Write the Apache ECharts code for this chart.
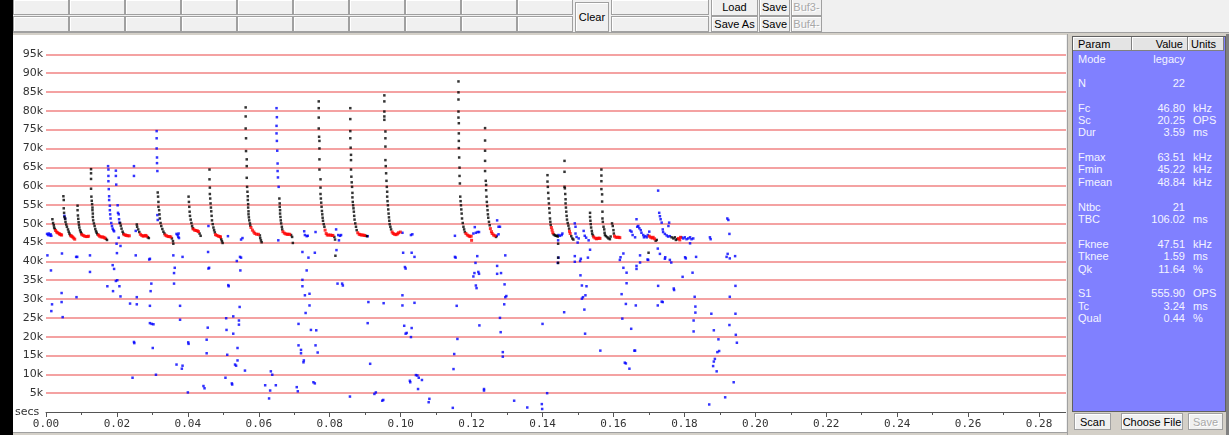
<!DOCTYPE html>
<html>
<head>
<meta charset="utf-8">
<script src="https://cdn.jsdelivr.net/npm/echarts@6/dist/echarts.min.js"></script>
<style>
  html, body { margin: 0; padding: 0; }
  body { width: 1229px; height: 435px; position: relative; overflow: hidden; background: #f0f0f0; font-family: 'Liberation Sans', Arial, sans-serif; }
  .abs { position: absolute; box-sizing: border-box; }
  .btn { position: absolute; box-sizing: border-box; background: #f0f0f0; border: 1px solid #a0a0a0; box-shadow: inset 1px 1px 0 #fff; font-size: 11px; color: #000; display: flex; align-items: center; justify-content: center; white-space: nowrap; }
  .btn.off { color: #a8a8a8; text-shadow: 1px 1px 0 #fff; }
  #chart { position: absolute; left: 13px; top: 35px; width: 1053px; height: 397px; background: #fff; }
  #panel { position: absolute; left: 1067px; top: 34px; width: 162px; height: 401px; background: #d4d0c8; border-left: 1px solid #a0a0a0; }
  #tbl { position: absolute; left: 4px; top: 2px; width: 152px; height: 374px; background: #8080ff; border: 1px solid #606060; }
  .hd { position: absolute; top: 0; height: 14px; background: #e4e4e4; border-right: 1px solid #808080; border-bottom: 1px solid #808080; box-shadow: inset 1px 1px 0 #fff; font-size: 11px; line-height: 14px; color: #000; box-sizing: border-box; }
  .row { position: absolute; left: 0; width: 152px; height: 13px; font-size: 11px; line-height: 13px; color: #f4f4ff; }
  .row span { position: absolute; top: 0; }
  .row .k { left: 5px; }
  .row .v { right: 40px; text-align: right; }
  .row .u { left: 120px; }
  #secs { position: absolute; left: 15px; top: 405px; font-family: 'DejaVu Sans', sans-serif; font-size: 11px; color: #333; }
</style>
</head>
<body>
<!-- left frame strip -->
<div class="abs" style="left:0;top:0;width:13px;height:435px;background:#000"></div>
<!-- toolbar -->
<div class="abs" style="left:13px;top:0;width:1216px;height:35px;background:#f0f0f0"></div>
<div class="abs" style="left:13px;top:32px;width:1216px;height:3px;background:#d4d0c8;border-top:1px solid #a0a0a0"></div>
<div id="toolbar"></div>
<!-- plot -->
<div id="chart"></div>
<div id="secs">secs</div>
<!-- bottom strip -->
<div class="abs" style="left:13px;top:432px;width:1054px;height:3px;background:#d4d0c8;border-top:1px solid #a0a0a0"></div>
<!-- parameter panel -->
<div id="panel">
  <div id="tbl">
    <div class="hd" style="left:0;width:59px;padding-left:5px">Param</div>
    <div class="hd" style="left:59px;width:56px;text-align:right;padding-right:4px">Value</div>
    <div class="hd" style="left:115px;width:36px;padding-left:3px">Units</div>
    <div id="rows"></div>
  </div>
  <div class="btn" style="left:6px;top:379px;width:37px;height:17px">Scan</div>
  <div class="btn" style="left:53px;top:379px;width:62px;height:17px">Choose File</div>
  <div class="btn off" style="left:120px;top:379px;width:35px;height:17px">Save</div>
</div>
<div class="abs" style="left:1226px;top:34px;width:3px;height:401px;background:#808080"></div>

<script>
// ---- toolbar buttons ----
const toolCols = 10;
const toolButtons = [
  { text: 'Clear', x: 575, y: 2, w: 34, h: 30 },
  { text: '', x: 611, y: -1, w: 98, h: 16 },
  { text: '', x: 611, y: 16, w: 98, h: 16 },
  { text: 'Load', x: 711, y: -2, w: 47, h: 18 },
  { text: 'Save As', x: 711, y: 16, w: 47, h: 16 },
  { text: 'Save', x: 759, y: -2, w: 31, h: 18 },
  { text: 'Save', x: 759, y: 16, w: 31, h: 16 },
  { text: 'Buf3-', x: 791, y: -2, w: 31, h: 18, off: true },
  { text: 'Buf4-', x: 791, y: 16, w: 31, h: 16, off: true }
];
const tb = document.getElementById('toolbar');
for (let r = 0; r < 2; r++) {
  for (let c = 0; c < toolCols; c++) {
    const d = document.createElement('div');
    d.className = 'btn';
    d.style.cssText = `left:${13 + c * 56}px;top:${r === 0 ? -1 : 16}px;width:56px;height:16px`;
    tb.appendChild(d);
  }
}
toolButtons.forEach(b => {
  const d = document.createElement('div');
  d.className = 'btn' + (b.off ? ' off' : '');
  d.style.cssText = `left:${b.x}px;top:${b.y}px;width:${b.w}px;height:${b.h}px`;
  d.textContent = b.text;
  tb.appendChild(d);
});

// ---- parameter table ----
const paramNames  = ['Mode', 'N', 'Fc', 'Sc', 'Dur', 'Fmax', 'Fmin', 'Fmean', 'Ntbc', 'TBC', 'Fknee', 'Tknee', 'Qk', 'S1', 'Tc', 'Qual'];
const paramValues = ['legacy', '22', '46.80', '20.25', '3.59', '63.51', '45.22', '48.84', '21', '106.02', '47.51', '1.59', '11.64', '555.90', '3.24', '0.44'];
const paramUnits  = ['', '', 'kHz', 'OPS', 'ms', 'kHz', 'kHz', 'kHz', '', 'ms', 'kHz', 'ms', '%', 'OPS', 'ms', '%'];
const paramRowTop = [16, 40, 65, 77, 89, 114, 126, 139, 164, 176, 201, 213, 226, 250, 263, 275];
const rowsEl = document.getElementById('rows');
paramNames.forEach((n, i) => {
  const r = document.createElement('div');
  r.className = 'row';
  r.style.top = paramRowTop[i] + 'px';
  r.innerHTML = `<span class="k">${n}</span><span class="v">${paramValues[i]}</span><span class="u">${paramUnits[i]}</span>`;
  rowsEl.appendChild(r);
});

// ---- call data: [time s, frequency kHz] ----
const blackDots = [
  [0.0018,51.2],[0.0020,50.2],[0.0022,49.6],[0.0023,49.0],[0.0025,48.6],
  [0.0049,57.3],[0.0050,56.3],[0.0050,54.1],[0.0051,52.9],[0.0052,51.8],[0.0054,51.3],[0.0055,50.5],[0.0057,49.8],[0.0059,49.2],[0.0062,48.5],[0.0064,47.9],[0.0066,47.4],[0.0068,47.0],
  [0.0089,54.8],[0.0089,53.6],[0.0090,52.2],[0.0091,51.3],[0.0092,50.4],[0.0093,49.7],[0.0094,49.0],[0.0096,48.3],[0.0098,47.8],[0.0100,47.4],
  [0.0127,64.5],[0.0127,63.4],[0.0127,61.9],[0.0127,59.3],[0.0128,57.2],[0.0129,56.1],[0.0130,55.2],[0.0131,54.3],[0.0131,53.6],[0.0132,52.7],[0.0132,51.8],[0.0133,50.9],[0.0135,50.1],[0.0137,49.4],[0.0139,48.6],[0.0141,48.0],[0.0143,47.6],[0.0145,47.2],[0.0169,46.0],[0.0172,45.7],
  [0.0209,50.2],[0.0211,49.5],[0.0213,48.7],[0.0216,47.9],[0.0218,47.4],
  [0.0256,49.8],[0.0257,49.2],[0.0260,48.5],[0.0263,47.8],[0.0287,46.4],[0.0290,46.2],
  [0.0315,58.3],[0.0316,57.2],[0.0317,55.8],[0.0317,54.5],[0.0319,53.6],[0.0320,52.5],[0.0321,51.4],[0.0323,50.2],[0.0325,49.4],[0.0328,48.6],[0.0331,47.9],[0.0334,47.4],[0.0355,46.1],[0.0358,45.4],[0.0359,44.7],
  [0.0402,57.2],[0.0403,55.8],[0.0404,54.5],[0.0405,53.2],[0.0406,52.1],[0.0408,51.1],[0.0410,50.2],[0.0412,49.4],[0.0414,48.8],[0.0433,47.4],[0.0436,46.8],
  [0.0461,64.4],[0.0461,61.8],[0.0462,59.6],[0.0462,57.9],[0.0463,56.7],[0.0464,55.4],[0.0465,54.3],[0.0466,53.3],[0.0467,52.1],[0.0468,50.9],[0.0470,49.9],[0.0472,49.0],[0.0474,48.3],[0.0476,47.7],[0.0494,45.9],[0.0496,45.4],[0.0498,44.9],
  [0.0563,80.9],[0.0563,78.5],[0.0563,75.3],[0.0564,72.7],[0.0564,69.3],[0.0566,67.1],[0.0566,65.3],[0.0566,62.2],[0.0567,59.8],[0.0568,58.5],[0.0569,57.3],[0.0569,56.3],[0.0570,55.2],[0.0570,54.3],[0.0571,53.3],[0.0571,52.5],[0.0572,51.7],[0.0573,50.9],[0.0575,50.1],[0.0576,49.5],[0.0603,46.9],[0.0604,46.2],[0.0606,45.6],[0.0608,45.1],
  [0.0658,56.7],[0.0659,55.4],[0.0659,54.5],[0.0660,53.6],[0.0660,52.7],[0.0661,51.8],[0.0662,50.9],[0.0663,50.1],[0.0665,49.2],[0.0666,48.5],[0.0691,47.0],[0.0694,46.5],[0.0696,44.9],
  [0.0769,82.5],[0.0769,80.7],[0.0769,78.2],[0.0769,75.3],[0.0770,73.1],[0.0771,72.0],[0.0771,70.0],[0.0771,67.1],[0.0771,64.4],[0.0774,61.8],[0.0774,59.6],[0.0774,57.9],[0.0775,56.7],[0.0776,55.6],[0.0777,54.5],[0.0778,53.4],[0.0779,52.5],[0.0780,51.6],[0.0781,50.8],[0.0783,49.9],[0.0785,49.2],[0.0813,46.5],[0.0815,45.8],[0.0816,41.5],
  [0.0858,80.7],[0.0858,77.8],[0.0858,74.6],[0.0858,72.7],[0.0859,70.2],[0.0860,68.3],[0.0860,66.9],[0.0860,64.4],[0.0861,62.5],[0.0862,61.0],[0.0863,59.8],[0.0864,58.2],[0.0864,57.0],[0.0865,55.8],[0.0866,54.9],[0.0867,54.1],[0.0868,53.2],[0.0869,52.1],[0.0870,51.1],[0.0872,50.1],[0.0874,49.2],[0.0876,48.3],[0.0901,46.8],[0.0905,46.7],
  [0.0954,84.1],[0.0954,82.5],[0.0954,79.8],[0.0954,78.5],[0.0954,77.6],[0.0957,74.5],[0.0957,72.7],[0.0957,70.5],[0.0957,66.9],[0.0958,65.3],[0.0959,63.4],[0.0960,61.4],[0.0961,59.8],[0.0962,58.5],[0.0962,57.2],[0.0963,56.0],[0.0964,54.9],[0.0965,53.8],[0.0966,52.7],[0.0967,51.7],[0.0968,50.8],[0.0969,49.9],[0.0971,49.2],[0.0973,48.5],
  [0.1163,87.8],[0.1163,84.9],[0.1163,83.0],[0.1163,79.8],[0.1163,78.2],[0.1164,76.7],[0.1164,74.0],[0.1164,72.0],[0.1164,70.1],[0.1165,67.6],[0.1166,64.9],[0.1166,62.7],[0.1167,60.7],[0.1168,57.2],[0.1169,56.0],[0.1170,54.9],[0.1171,53.8],[0.1172,52.7],[0.1173,51.4],[0.1175,50.2],[0.1177,49.2],[0.1179,48.5],[0.1181,47.8],
  [0.1238,75.4],[0.1238,72.1],[0.1238,69.4],[0.1238,66.7],[0.1238,64.0],[0.1240,61.4],[0.1241,60.3],[0.1241,58.9],[0.1242,57.2],[0.1243,55.8],[0.1244,54.7],[0.1245,53.6],[0.1246,52.5],[0.1247,51.6],[0.1249,50.5],[0.1251,49.6],[0.1269,46.5],
  [0.1414,62.9],[0.1414,61.2],[0.1415,59.8],[0.1416,58.2],[0.1417,56.7],[0.1418,55.4],[0.1419,54.1],[0.1420,52.9],[0.1421,51.4],[0.1422,50.5],[0.1423,49.7],[0.1431,47.2],[0.1434,47.0],[0.1437,46.8],[0.1440,46.8],[0.1443,46.6],[0.1444,44.7],[0.1444,41.0],[0.1444,39.6],
  [0.1462,66.7],[0.1462,63.8],[0.1462,59.8],[0.1463,59.4],[0.1464,57.9],[0.1465,56.5],[0.1465,55.4],[0.1466,54.3],[0.1467,53.2],[0.1468,52.1],[0.1469,51.1],[0.1471,50.2],[0.1473,49.5],[0.1475,48.7],[0.1481,46.7],[0.1484,46.1],[0.1487,45.8],
  [0.1534,52.9],[0.1534,51.8],[0.1535,50.8],[0.1536,49.9],[0.1537,49.0],[0.1539,48.1],[0.1540,47.4],[0.1542,46.9],
  [0.1566,64.4],[0.1566,62.8],[0.1566,61.3],[0.1566,59.2],[0.1568,57.8],[0.1568,55.9],[0.1569,53.2],[0.1569,51.4],[0.1570,50.5],[0.1572,49.2],[0.1574,48.5],[0.1575,47.6],[0.1576,47.0],[0.1579,46.7],[0.1583,46.4],[0.1586,46.1],[0.1590,45.9],[0.1592,46.6],[0.1596,50.1],[0.1598,49.4],[0.1600,48.3],[0.1601,47.4],
  [0.1699,42.3],[0.1719,45.5],[0.1722,45.7],[0.1764,46.4],[0.1769,46.1],[0.1773,46.4],[0.1776,45.7],[0.1780,45.9]
];

const redDots = [
  [0.0027,48.2],[0.0030,47.8],[0.0033,47.6],[0.0037,47.4],[0.0039,47.2],[0.0042,47.1],[0.0044,47.0],
  [0.0070,46.8],[0.0072,46.7],[0.0075,46.5],[0.0078,46.2],[0.0081,45.9],
  [0.0101,47.1],[0.0105,46.9],[0.0109,46.7],[0.0113,46.6],[0.0117,46.6],[0.0120,46.7],
  [0.0148,47.0],[0.0151,46.7],[0.0155,46.5],[0.0159,46.5],[0.0163,46.4],[0.0166,46.2],
  [0.0220,47.1],[0.0224,47.0],[0.0227,46.9],[0.0231,46.8],[0.0235,46.8],
  [0.0266,47.2],[0.0270,46.9],[0.0274,46.7],[0.0277,46.8],[0.0281,46.9],[0.0284,46.7],
  [0.0336,47.0],[0.0340,46.8],[0.0344,46.6],[0.0348,46.6],[0.0352,46.5],
  [0.0415,48.6],[0.0419,48.3],[0.0423,48.2],[0.0427,48.1],[0.0430,47.9],
  [0.0478,47.1],[0.0482,46.9],[0.0486,46.7],[0.0490,46.6],[0.0492,46.5],
  [0.0578,49.0],[0.0582,48.3],[0.0586,47.8],[0.0589,47.4],[0.0594,47.2],[0.0599,47.2],
  [0.0668,47.9],[0.0672,47.5],[0.0676,47.3],[0.0680,47.2],[0.0683,47.2],[0.0687,47.2],
  [0.0787,48.3],[0.0790,47.4],[0.0793,47.0],[0.0797,47.0],[0.0802,47.0],[0.0806,46.9],[0.0809,46.9],
  [0.0879,47.6],[0.0883,47.2],[0.0886,47.1],[0.0890,47.0],[0.0894,47.0],[0.0898,46.9],
  [0.0976,47.8],[0.0979,47.4],[0.0983,47.2],[0.0987,47.1],[0.0991,47.3],[0.0994,47.6],[0.0999,47.8],
  [0.1184,47.4],[0.1188,47.0],[0.1192,46.8],[0.1195,46.6],[0.1199,46.7],[0.1200,45.6],
  [0.1253,48.7],[0.1256,47.9],[0.1258,47.4],[0.1262,47.0],[0.1266,46.8],
  [0.1425,49.0],[0.1427,48.3],[0.1429,47.6],
  [0.1476,48.0],[0.1478,47.4],
  [0.1544,46.5],[0.1548,46.2],[0.1552,46.0],[0.1555,46.1],[0.1559,46.2],[0.1562,46.1],
  [0.1603,46.7],[0.1607,46.4],[0.1611,46.4],[0.1615,46.4],[0.1618,46.3],
  [0.1701,46.7],[0.1705,46.4],[0.1709,46.2],[0.1712,46.4],[0.1716,46.0],
  [0.1783,46.1],[0.1787,45.7],[0.1789,46.4]
];

const blueDots = [
  [0.0003,47.3],[0.0006,47.0],[0.0008,47.4],[0.0011,46.9],[0.0013,47.2],[0.0015,46.8],
  [0.0052,52.1],[0.0054,51.4],
  [0.0175,65.3],[0.0176,64.4],[0.0176,62.7],[0.0176,61.3],[0.0177,59.2],[0.0178,57.3],[0.0178,56.3],[0.0180,54.8],[0.0180,53.6],[0.0181,52.5],[0.0182,51.4],[0.0184,50.2],[0.0186,49.4],[0.0188,48.7],[0.0190,48.3],[0.0192,48.0],
  [0.0197,64.1],[0.0197,62.7],[0.0198,60.4],[0.0202,54.9],[0.0203,52.9],[0.0205,52.5],[0.0206,51.2],[0.0207,50.3],
  [0.0312,74.6],[0.0312,72.7],[0.0312,70.0],[0.0313,67.6],[0.0313,66.1],[0.0314,64.0],[0.0314,52.3],[0.0315,51.0],
  [0.0368,47.3],[0.0371,47.0],[0.0374,47.4],[0.0373,46.5],[0.0375,46.2],
  [0.0458,49.4],[0.0513,46.7],
  [0.0004,41.6],[0.0014,37.6],[0.0017,28.6],[0.0015,26.8],[0.0045,42.1],[0.0044,31.6],[0.0044,29.2],[0.0047,25.2],
  [0.0085,41.2],[0.0088,41.2],[0.0086,30.5],[0.0124,41.6],[0.0124,37.2],[0.0173,33.4],[0.0188,39.0],[0.0192,38.0],
  [0.0189,32.1],[0.0197,34.8],[0.0201,35.0],[0.0207,33.4],[0.0210,30.7],[0.0199,44.7],[0.0210,44.1],[0.0200,42.2],
  [0.0205,46.3],[0.0237,28.8],[0.0256,30.5],[0.0256,28.6],[0.0253,41.6],[0.0248,65.3],[0.0248,62.7],[0.0253,48.1],
  [0.0248,18.6],[0.0249,18.3],[0.0244,9.1],[0.0293,40.7],[0.0291,40.5],[0.0297,34.1],[0.0295,32.1],[0.0293,28.2],
  [0.0293,23.6],[0.0298,23.4],[0.0303,23.3],[0.0301,17.0],[0.0310,9.9],[0.0359,41.6],[0.0361,36.9],[0.0363,38.3],
  [0.0361,34.1],[0.0378,28.2],[0.0378,24.5],[0.0368,12.6],[0.0385,12.3],[0.0383,11.5],[0.0385,41.2],[0.0401,18.5],
  [0.0402,18.1],[0.0400,5.2],[0.0457,42.5],[0.0460,38.3],[0.0458,38.1],[0.0456,22.4],[0.0453,19.2],[0.0453,15.6],
  [0.0444,6.9],[0.0447,6.3],[0.0515,33.4],[0.0514,33.7],[0.0508,24.9],[0.0509,21.8],[0.0511,15.2],[0.0506,9.1],
  [0.0528,20.8],[0.0528,25.4],[0.0538,40.1],[0.0547,41.2],[0.0550,41.0],[0.0548,37.6],[0.0546,27.9],[0.0544,24.3],
  [0.0544,23.2],[0.0540,17.0],[0.0540,13.7],[0.0533,12.6],[0.0536,12.3],[0.0524,7.6],[0.0525,7.3],[0.0561,11.0],
  [0.0550,45.8],[0.0554,46.2],
  [0.0650,80.7],[0.0651,78.3],[0.0650,76.0],[0.0650,74.0],[0.0651,72.0],[0.0652,69.4],[0.0653,66.0],[0.0653,64.0],[0.0654,62.3],[0.0656,59.8],
  [0.0634,10.8],[0.0638,9.9],[0.0618,7.1],[0.0632,5.7],[0.0629,3.6],[0.0648,7.1],[0.0655,45.6],
  [0.0707,6.6],[0.0710,5.5],[0.0712,23.4],[0.0712,17.7],[0.0719,16.5],[0.0719,15.6],[0.0727,13.7],[0.0726,13.2],
  [0.0723,42.5],[0.0723,35.1],[0.0723,33.4],[0.0730,31.0],[0.0732,26.3],[0.0735,37.6],[0.0740,41.0],[0.0743,31.4],
  [0.0743,28.3],[0.0747,21.8],[0.0758,42.3],[0.0762,21.7],[0.0760,17.7],[0.0766,15.8],[0.0754,7.9],[0.0758,7.6],
  [0.0730,47.0],[0.0735,46.7],[0.0738,46.8],[0.0760,47.8],[0.0728,48.0],
  [0.0818,48.5],[0.0824,47.0],[0.0829,46.8],[0.0832,47.0],[0.0826,45.6],[0.0819,43.0],[0.0822,34.1],[0.0835,34.1],
  [0.0837,33.6],[0.0909,29.2],[0.0907,23.6],[0.0914,12.8],[0.0857,4.1],[0.0926,4.8],[0.0930,5.2],[0.0951,3.2],
  [0.0948,3.0],[0.0952,28.9],[0.0907,46.7],
  [0.1007,42.3],[0.1012,38.5],[0.1014,38.1],[0.1005,31.0],[0.1005,28.3],[0.1010,22.9],[0.1014,20.8],[0.1017,21.0],
  [0.1029,19.9],[0.1031,22.3],[0.1026,8.3],[0.1027,7.9],[0.1031,42.3],[0.1039,41.2],[0.1039,29.0],[0.1033,47.2],
  [0.1005,47.6],[0.1029,47.0],
  [0.1043,9.8],[0.1047,9.7],[0.1051,9.1],[0.1060,8.5],[0.1049,6.1],[0.1081,3.5],[0.1079,2.6],[0.1147,1.1],
  [0.1149,11.4],[0.1151,15.4],[0.1160,19.4],[0.1158,28.2],[0.1153,41.2],[0.1155,41.0],[0.1153,46.8],
  [0.1216,41.4],[0.1211,39.6],[0.1219,37.2],[0.1221,36.7],[0.1208,36.9],[0.1205,36.0],[0.1212,33.6],[0.1214,32.9],
  [0.1222,23.0],[0.1235,5.7],[0.1235,6.1],[0.1272,38.8],[0.1272,36.7],[0.1283,36.9],[0.1293,33.9],[0.1298,30.8],
  [0.1295,30.5],[0.1292,28.6],[0.1280,25.0],[0.1282,21.2],[0.1288,15.9],[0.1288,14.7],[0.1295,41.6],[0.1320,3.0],
  [0.1357,1.2],[0.1398,2.1],[0.1399,0.8],[0.1413,5.0],[0.1400,23.4],[0.1461,26.5],[0.1445,41.0],[0.1443,39.6],
  [0.1491,41.4],[0.1491,39.9],[0.1506,40.1],[0.1508,40.7],[0.1507,36.3],[0.1511,33.6],[0.1524,33.4],[0.1521,31.0],
  [0.1514,30.5],[0.1511,30.1],[0.1518,27.2],[0.1520,20.8],[0.1528,41.0],[0.1534,43.1],[0.1563,16.3],
  [0.1499,45.0],[0.1502,46.1],[0.1493,47.4],[0.1496,46.5],[0.1491,50.1],[0.1493,49.2],[0.1516,48.1],[0.1519,46.8],
  [0.1523,46.3],[0.1530,45.6],
  [0.1205,47.4],[0.1209,49.1],[0.1212,47.6],[0.1217,47.8],[0.1221,47.8],
  [0.1272,50.9],[0.1276,49.2],[0.1280,49.2],[0.1276,47.2],[0.1271,46.8],
  [0.1445,47.0],[0.1449,46.8],[0.1454,47.0],[0.1456,47.4],[0.1444,45.6],
  [0.1647,48.2],[0.1651,47.9],[0.1654,47.0],[0.1661,46.4],[0.1665,51.2],[0.1667,49.2],[0.1670,49.4],[0.1673,48.8],
  [0.1677,48.3],[0.1679,47.6],[0.1684,47.0],[0.1686,46.4],[0.1690,46.7],[0.1694,46.4],[0.1697,47.0],[0.1701,47.9],
  [0.1726,58.8],
  [0.1729,52.9],[0.1731,52.0],[0.1733,51.2],[0.1736,50.3],[0.1739,48.5],[0.1740,47.8],[0.1745,47.3],[0.1750,46.9],
  [0.1754,46.6],[0.1759,46.7],[0.1757,50.3],[0.1755,49.4],
  [0.1792,46.4],[0.1797,46.1],[0.1801,46.4],[0.1806,45.9],[0.1811,46.1],[0.1816,46.4],[0.1820,45.9],[0.1825,46.1],[0.1816,44.8],
  [0.1628,42.1],[0.1620,41.1],[0.1618,40.4],[0.1628,38.3],[0.1637,37.0],[0.1637,34.2],[0.1623,31.3],[0.1635,28.7],
  [0.1625,24.8],[0.1650,22.1],[0.1659,16.3],[0.1661,16.3],[0.1632,13.1],[0.1635,12.9],[0.1645,11.5],[0.1675,41.6],
  [0.1665,38.8],[0.1665,38.0],[0.1675,39.7],[0.1663,28.3],[0.1698,40.4],[0.1696,40.5],[0.1725,43.4],[0.1731,42.0],
  [0.1726,33.5],[0.1736,29.3],[0.1739,29.2],[0.1725,28.3],[0.1745,40.7],[0.1746,41.1],[0.1759,40.4],[0.1763,39.7],
  [0.1770,32.8],[0.1771,32.4],[0.1795,35.9],[0.1802,41.1],[0.1804,40.8],[0.1823,37.0],[0.1833,41.2],[0.1829,30.6],
  [0.1831,28.0],[0.1831,26.4],[0.1826,24.3],[0.1826,21.4],[0.1876,26.1],[0.1883,21.7],[0.1896,19.3],[0.1898,16.2],
  [0.1893,15.9],[0.1886,14.1],[0.1883,13.4],[0.1881,12.2],[0.1891,10.8],[0.1870,2.0],[0.1915,3.9],[0.1939,7.9],
  [0.1921,51.4],[0.1924,51.0],[0.1927,47.3],[0.1919,41.2],[0.1922,42.0],[0.1928,40.8],[0.1943,41.4],[0.1944,33.5],
  [0.1928,30.6],[0.1944,26.1],[0.1927,23.1],[0.1945,20.5],[0.1948,18.4],[0.1872,46.4],[0.1874,45.9]
];

// ---- axes ----
const timeMax = 0.2876;   // right edge of the time window (s)
const timeStep = 0.02;
const freqMax = 100;      // kHz
const freqStep = 5;

const chart = echarts.init(document.getElementById('chart'), null, { renderer: 'canvas' });
const dotSeries = (name, data, color, size) => ({
  name, type: 'scatter', data, symbol: 'rect', symbolSize: size,
  itemStyle: { color }, silent: true, animation: false
});
chart.setOption({
  animation: false,
  backgroundColor: '#ffffff',
  grid: { left: 33, right: 0, top: 0.5, bottom: 20, containLabel: false },
  xAxis: {
    type: 'value', min: 0, max: timeMax, interval: timeStep,
    axisLine: { show: true, lineStyle: { color: '#555', width: 1 } },
    axisTick: { show: true, length: 5, lineStyle: { color: '#555' } },
    minorTick: { show: true, splitNumber: 2, length: 3, lineStyle: { color: '#555' } },
    splitLine: { show: false },
    axisLabel: {
      color: '#333', fontFamily: 'DejaVu Sans Mono', fontSize: 11, margin: 7,
      showMaxLabel: false,
      formatter: v => v.toFixed(2)
    }
  },
  yAxis: {
    type: 'value', min: 0, max: freqMax, interval: freqStep,
    axisLine: { show: false },
    axisTick: { show: false },
    splitLine: { show: true, showMinLine: false, showMaxLine: false, lineStyle: { color: '#f4a2a2', width: 2 } },
    axisLabel: {
      color: '#333', fontFamily: 'DejaVu Sans', fontSize: 11, margin: 3,
      showMinLabel: false, showMaxLabel: false,
      formatter: v => v + 'k'
    }
  },
  series: [
    dotSeries('other', blueDots, '#0000ff', 2.5),
    dotSeries('call', blackDots, '#000000', 2.5),
    dotSeries('body', redDots, '#ff0000', 3)
  ]
});
</script>
</body>
</html>
